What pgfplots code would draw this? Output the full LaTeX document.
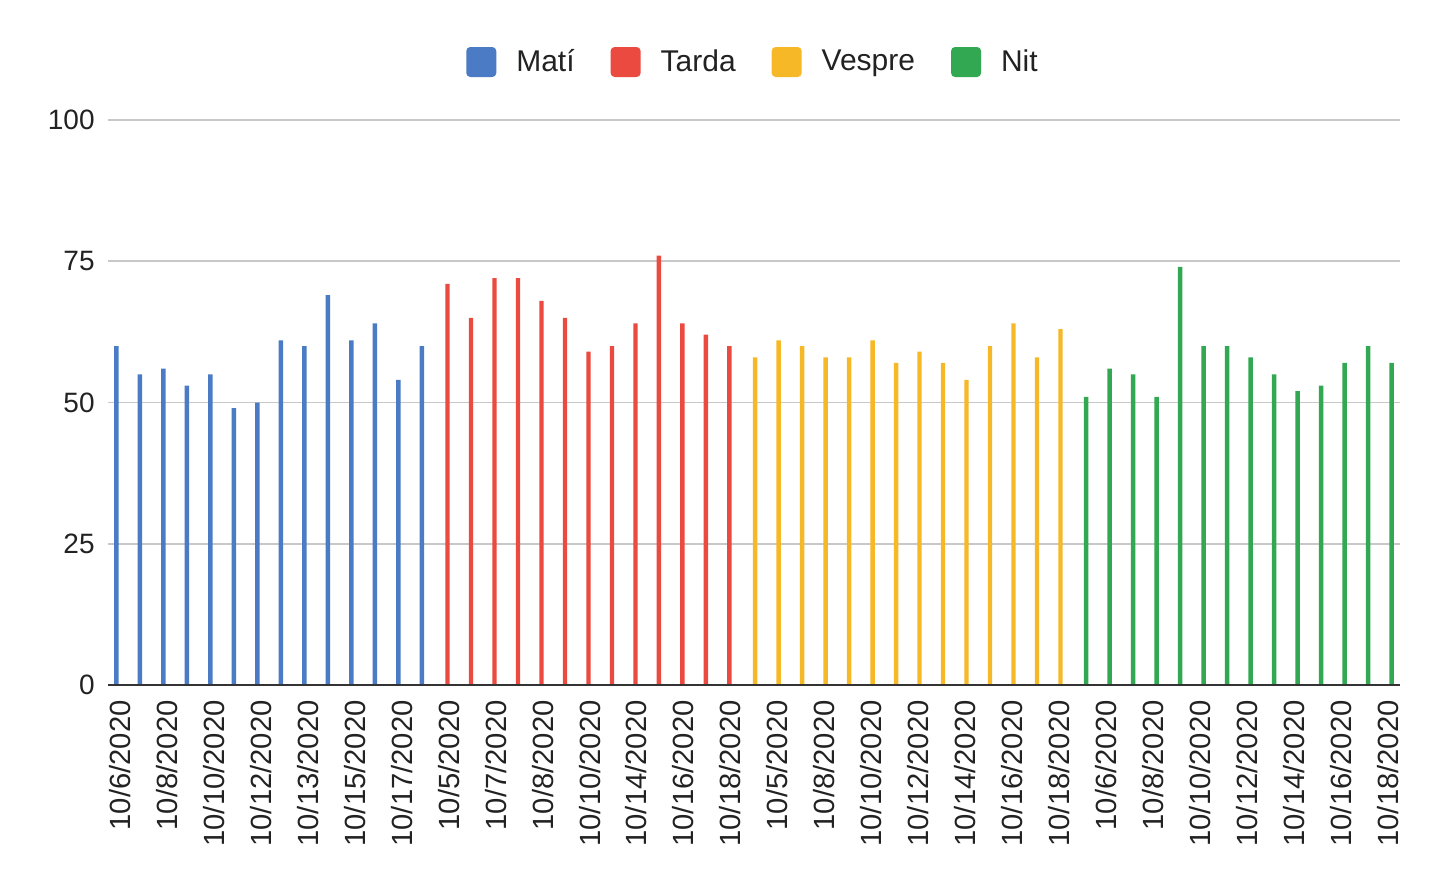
\documentclass[border=0pt]{standalone}
\usepackage{pgfplots}
\pgfplotsset{compat=1.18}
\usepackage{fontspec}
\setmainfont{Liberation Sans}
\definecolor{cMati}{HTML}{4A7BC4}
\definecolor{cTarda}{HTML}{EA4A3F}
\definecolor{cVespre}{HTML}{F6B826}
\definecolor{cNit}{HTML}{33A853}
\definecolor{txt}{HTML}{222222}
\definecolor{gridc}{HTML}{C8C8C8}
\definecolor{zeroc}{HTML}{333333}
\begin{document}
\begin{tikzpicture}
\begin{axis}[
  scale only axis,
  width=646pt, height=282.5pt,
  ybar, bar width=2.2pt,
  xmin=-0.5, xmax=54.5, ymin=0, ymax=100,
  enlargelimits=false,
  axis line style={draw=none},
  major tick length=0pt,
  ymajorgrids, grid style={draw=gridc, line width=0.8pt},
  ytick={0,25,50,75,100},
  /pgf/number format/assume math mode=true,
  yticklabel style={font=\fontsize{14pt}{16pt}\selectfont, text=txt, inner sep=0pt, xshift=-6.5pt},
  xtick={0,2,...,54},
  xticklabels={10/6/2020,10/8/2020,10/10/2020,10/12/2020,10/13/2020,10/15/2020,10/17/2020,
               10/5/2020,10/7/2020,10/8/2020,10/10/2020,10/14/2020,10/16/2020,10/18/2020,
               10/5/2020,10/8/2020,10/10/2020,10/12/2020,10/14/2020,10/16/2020,10/18/2020,
               10/6/2020,10/8/2020,10/10/2020,10/12/2020,10/14/2020,10/16/2020,10/18/2020},
  xticklabel style={font=\fontsize{14.6pt}{16pt}\selectfont, text=txt, rotate=90, anchor=east, inner sep=7.5pt},
  legend columns=4,
  legend style={draw=none, fill=none, at={(0.5,1)}, anchor=center, yshift=29pt,
    font=\fontsize{15pt}{17pt}\selectfont, text=txt,
    /tikz/every odd column/.append style={column sep=8pt},
    /tikz/every even column/.append style={column sep=16pt}},
  legend image code/.code={\fill[#1, draw=none, rounded corners=2pt] (0pt,-7.5pt) rectangle (15pt,7.5pt);},
]
\addplot[fill=cMati, draw=none, bar shift=-1.65pt] coordinates {
(0,60) (1,55) (2,56) (3,53) (4,55) (5,49) (6,50) (7,61) (8,60) (9,69) (10,61) (11,64) (12,54) (13,60)};
\addlegendentry{Matí}
\addplot[fill=cTarda, draw=none, bar shift=-0.55pt] coordinates {
(14,71) (15,65) (16,72) (17,72) (18,68) (19,65) (20,59) (21,60) (22,64) (23,76) (24,64) (25,62) (26,60)};
\addlegendentry{Tarda}
\addplot[fill=cVespre, draw=none, bar shift=0.55pt] coordinates {
(27,58) (28,61) (29,60) (30,58) (31,58) (32,61) (33,57) (34,59) (35,57) (36,54) (37,60) (38,64) (39,58) (40,63)};
\addlegendentry{Vespre}
\addplot[fill=cNit, draw=none, bar shift=1.65pt] coordinates {
(41,51) (42,56) (43,55) (44,51) (45,74) (46,60) (47,60) (48,58) (49,55) (50,52) (51,53) (52,57) (53,60) (54,57)};
\addlegendentry{Nit}
\addplot[sharp plot, draw=zeroc, line width=1pt, forget plot] coordinates {(-0.5,0) (54.5,0)};
\end{axis}
\path ([shift={(-54pt,-103pt)}]current axis.south west) rectangle ([shift={(22.5pt,60pt)}]current axis.north east);
\end{tikzpicture}
\end{document}
